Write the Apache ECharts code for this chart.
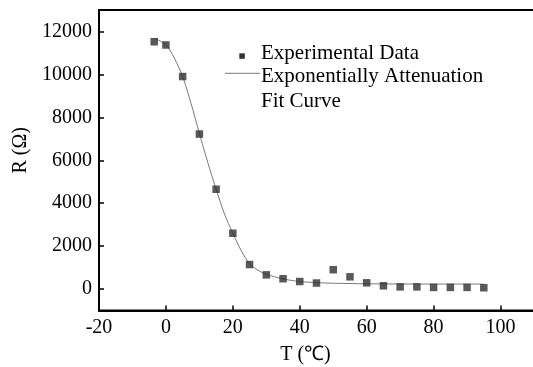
<!DOCTYPE html>
<html>
<head>
<meta charset="utf-8">
<script src="https://cdn.jsdelivr.net/npm/echarts@6/dist/echarts.min.js"></script>
<style>
html,body{margin:0;padding:0;background:#fff;}
#chart{width:533px;height:367px;}
</style>
</head>
<body>
<div id="chart"></div>
<script>
var tempData = [-3.5, 0, 5, 10, 15, 20, 25, 30, 35, 40, 45, 50, 55, 60, 65, 70, 75, 80, 85, 90, 95];
var resData  = [11520, 11370, 9900, 7220, 4650, 2600, 1140, 660, 480, 350, 280, 900, 570, 290, 150, 100, 100, 75, 75, 75, 60];

// Fit curve, points
var fitTemp = [-3.6, 0, 2.5, 5, 7.5, 10, 12.5, 15, 17.5, 20, 22.5, 25, 27.5, 30, 35, 40, 45, 50, 60, 70, 80, 95];
var fitRes  = [11690, 11380, 10760, 9900, 8650, 7250, 5900, 4650, 3500, 2600, 1790, 1180, 880, 690, 470, 350, 300, 270, 245, 235, 232, 230];

var xTicks = [-20, 0, 20, 40, 60, 80, 100];
var yTicks = [0, 2000, 4000, 6000, 8000, 10000, 12000];

var seriesNames = ['Experimental Data', 'Exponentially Attenuation', 'Fit Curve'];

var FONT = 'Liberation Serif';

function pairs(xs, ys) { return xs.map(function (x, i) { return [x, ys[i]]; }); }
function plain(v) { return String(v); }

var chart = echarts.init(document.getElementById('chart'));
chart.setOption({
  animation: false,
  backgroundColor: '#fff',
  grid: {
    left: 99, top: 10, width: 435, height: 300.5,
    show: true, borderColor: '#000', borderWidth: 2,
    containLabel: false, outerBoundsMode: 'none'
  },
  xAxis: {
    type: 'value', min: -20, max: 110,
    name: 'T (℃)', nameLocation: 'middle', nameGap: 34,
    nameTextStyle: { fontFamily: FONT, fontSize: 20, color: '#000', padding: [0, 22, 0, 0] },
    axisLine: { show: true, onZero: false, lineStyle: { color: '#000', width: 2 } },
    axisTick: { show: true, inside: true, length: 5, lineStyle: { color: '#000', width: 1.5 }, customValues: xTicks },
    axisLabel: { fontFamily: FONT, fontSize: 20, color: '#000', margin: 7, customValues: xTicks, formatter: plain },
    splitLine: { show: false }
  },
  yAxis: {
    type: 'value', min: -1000, max: 13000,
    name: 'R (Ω)', nameLocation: 'middle', nameGap: 51, nameRotate: 90,
    nameTextStyle: { fontFamily: FONT, fontSize: 20, color: '#000', padding: [0, 0, 0, 20] },
    axisLine: { show: true, onZero: false, lineStyle: { color: '#000', width: 2 } },
    axisTick: { show: true, inside: true, length: 5, lineStyle: { color: '#000', width: 1.5 }, customValues: yTicks },
    axisLabel: { fontFamily: FONT, fontSize: 20, color: '#000', margin: 7, customValues: yTicks, formatter: plain },
    splitLine: { show: false }
  },
  series: [
    {
      name: seriesNames[1] + ' ' + seriesNames[2],
      type: 'line',
      data: pairs(fitTemp, fitRes),
      smooth: 0.3,
      showSymbol: false,
      lineStyle: { color: '#7a7a7a', width: 1 },
      z: 2
    },
    {
      name: seriesNames[0],
      type: 'scatter',
      data: pairs(tempData, resData),
      symbol: 'rect', symbolSize: 7.5,
      itemStyle: { color: '#303030' },
      z: 3
    }
  ],
  graphic: [
    { type: 'rect', shape: { x: 239.3, y: 53.3, width: 5.5, height: 5.5 }, style: { fill: '#333333' } },
    { type: 'line', shape: { x1: 225, y1: 73.3, x2: 260, y2: 73.3 }, style: { stroke: '#7a7a7a', lineWidth: 1 } },
    { type: 'text', x: 261, y: 43, style: { text: seriesNames[0], font: '21px "' + FONT + '"', fill: '#000', textVerticalAlign: 'top' } },
    { type: 'text', x: 261, y: 65.5, style: { text: seriesNames[1], font: '21px "' + FONT + '"', fill: '#000', textVerticalAlign: 'top' } },
    { type: 'text', x: 261, y: 90.5, style: { text: seriesNames[2], font: '21px "' + FONT + '"', fill: '#000', textVerticalAlign: 'top' } }
  ]
});
</script>
</body>
</html>
